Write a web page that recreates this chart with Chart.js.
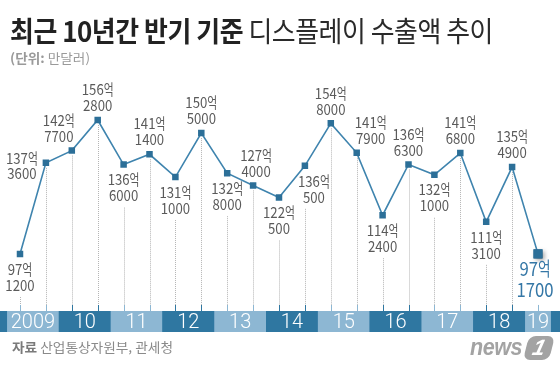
<!DOCTYPE html>
<html><head><meta charset="utf-8">
<script src="https://cdn.jsdelivr.net/npm/chart.js@4.4.1/dist/chart.umd.min.js"></script>
<style>
html,body{margin:0;padding:0;background:#fff;}
#wrap{position:relative;width:560px;height:369px;overflow:hidden;font-family:"Noto Sans CJK KR","Noto Sans",sans-serif;}
canvas{position:absolute;left:0;top:0;}
.t{position:absolute;white-space:nowrap;transform-origin:0 0;}
#title{left:10px;top:16px;font-size:28px;line-height:28px;color:#222;letter-spacing:-0.5px;}
#title b{font-weight:700;}
#title span{font-weight:400;color:#2a2a2a;}
#sub{left:10px;top:51px;font-size:13px;line-height:14px;color:#9a9a9a;}
#sub b{font-weight:700;}
#foot{left:12px;top:340px;font-size:13px;line-height:14px;color:#8a8a8a;}
#foot b{font-weight:700;color:#7a7a7a;}
#logo{left:470px;top:334px;font-family:"Liberation Sans",Arial,sans-serif;font-style:italic;font-weight:700;font-size:23px;line-height:26px;color:#a3a3a3;letter-spacing:-0.5px;}
#one{position:absolute;left:526px;top:336px;width:26px;height:24px;background:#a3a3a3;border-radius:7px;transform:skewX(-14deg);color:#fff;font-family:"Liberation Sans",Arial,sans-serif;font-weight:700;font-style:italic;font-size:22px;line-height:24px;text-align:center;}
</style></head>
<body>
<div id="wrap">
<canvas id="c" width="560" height="369"></canvas>
<div class="t" id="title"><b>최근 10년간 반기 기준</b><span> 디스플레이 수출액 추이</span></div>
<div class="t" id="sub"><b>(단위:</b> 만달러)</div>
<div class="t" id="foot"><b>자료</b> 산업통상자원부, 관세청</div>
<div class="t" id="logo">news</div>
<div id="one">1</div>
</div>
<script>
// ---- data ----
const periods = ['2009 상반기','2009 하반기','2010 상반기','2010 하반기','2011 상반기','2011 하반기','2012 상반기','2012 하반기','2013 상반기','2013 하반기','2014 상반기','2014 하반기','2015 상반기','2015 하반기','2016 상반기','2016 하반기','2017 상반기','2017 하반기','2018 상반기','2018 하반기','2019 상반기'];
const exportValues = [971200, 1373600, 1427700, 1562800, 1366000, 1411400, 1311000, 1505000, 1328000, 1274000, 1220500, 1360500, 1548000, 1417900, 1142400, 1366300, 1321000, 1416800, 1113100, 1354900, 971700];
const yearLabels = ['2009','10','11','12','13','14','15','16','17','18','19'];

// ---- layout (label placement) ----
const labelSide = ['b','l','a','a','b','a','b','a','b','a','b','b','a','a','b','a','b','a','b','a','b'];
const labelDx   = [0,-24,-13,0,0,0,0,0,0,3,0,9,0,14,0,0,0,0,0,0,-3];
const DARK = '#2f77a1', LIGHT = '#8db7d3';
const BAND_TOP = 311, BAND_BOT = 332, TICK_TOP = 305;

function fitWidth(id, w){
  const el = document.getElementById(id);
  const cw = el.getBoundingClientRect().width;
  el.style.transform = 'scaleX(' + (w / cw) + ')';
}
fitWidth('title', 483);
fitWidth('sub', 80);
fitWidth('foot', 161);
fitWidth('logo', 52);

function labelRows(v){
  return [Math.floor(v / 10000), v % 10000];
}
function drawScaled(ctx, txt, x, y, sx){
  ctx.save(); ctx.translate(x, y); ctx.scale(sx, 1); ctx.fillText(txt, 0, 0); ctx.restore();
}
function drawLabel(ctx, v, cx, y1, y2, size, color, weight){
  const [eok, rest] = labelRows(v);
  ctx.fillStyle = color;
  ctx.font = weight + ' ' + size + 'px "Noto Sans CJK KR"';
  ctx.textBaseline = 'middle';
  ctx.textAlign = 'left';
  const sd = 0.88, sh = 0.72;
  const d = String(eok), h = '억';
  const wd = ctx.measureText(d).width * sd, wh = ctx.measureText(h).width * sh;
  const x0 = cx - (wd + wh) / 2;
  drawScaled(ctx, d, x0, y1, sd);
  drawScaled(ctx, h, x0 + wd, y1, sh);
  const r = String(rest);
  const wr = ctx.measureText(r).width * sd;
  drawScaled(ctx, r, cx - wr / 2, y2, sd);
}
function labelLines(i, py){
  const s = labelSide[i];
  if (i === exportValues.length - 1) return [py + 15, py + 36];
  if (s === 'a') return [py - 30.5, py - 14.5];
  if (s === 'l') return [py - 5, py + 10.5];
  return [py + 15, py + 31];
}

const decor = {
  id: 'decor',
  beforeDatasetsDraw(chart){
    const ctx = chart.ctx, xs = chart.scales.x, meta = chart.getDatasetMeta(0);
    const step = xs.getPixelForValue(1) - xs.getPixelForValue(0);
    ctx.save();
    ctx.fillStyle = DARK;
    ctx.fillRect(0, BAND_TOP, chart.width, BAND_BOT - BAND_TOP);
    yearLabels.forEach((yl, k) => {
      const i0 = 2 * k, i1 = Math.min(2 * k + 1, exportValues.length - 1);
      const x0 = xs.getPixelForValue(i0) - step / 2, x1 = xs.getPixelForValue(i1) + step / 2;
      ctx.fillStyle = k % 2 === 0 ? LIGHT : DARK;
      ctx.fillRect(x0, BAND_TOP, x1 - x0, BAND_BOT - BAND_TOP);
    });
    meta.data.forEach((pt, i) => {
      const x = Math.round(pt.x) + 0.5;
      const k = Math.floor(i / 2);
      let start;
      const s = labelSide[i];
      if (s === 'a' || s === 'l') start = pt.y + 5;
      else start = labelLines(i, pt.y)[1] + 12;
      if (i === exportValues.length - 1) start = TICK_TOP;
      ctx.strokeStyle = '#b5b5b5';
      ctx.lineWidth = 1;
      ctx.setLineDash([1, 1]);
      ctx.beginPath(); ctx.moveTo(x, start); ctx.lineTo(x, TICK_TOP); ctx.stroke();
      ctx.setLineDash([]);
      ctx.strokeStyle = k % 2 === 0 ? LIGHT : DARK;
      ctx.beginPath(); ctx.moveTo(x, TICK_TOP); ctx.lineTo(x, BAND_TOP); ctx.stroke();
    });
    ctx.restore();
  },
  afterDatasetsDraw(chart){
    const ctx = chart.ctx, xs = chart.scales.x, meta = chart.getDatasetMeta(0);
    ctx.save();
    const last = meta.data[meta.data.length - 1];
    ctx.shadowColor = 'rgba(0,0,0,0.35)'; ctx.shadowBlur = 4; ctx.shadowOffsetX = 2; ctx.shadowOffsetY = 2;
    ctx.fillStyle = '#2c6f98';
    ctx.fillRect(last.x - 4.5, last.y - 4.5, 9, 9);
    ctx.restore();
    ctx.save();
    meta.data.forEach((pt, i) => {
      const [y1, y2] = labelLines(i, pt.y);
      const isLast = i === exportValues.length - 1;
      drawLabel(ctx, exportValues[i], pt.x + labelDx[i], y1, y2,
        isLast ? 19 : 15, isLast ? '#3577a6' : '#5a5a5a', '400');
    });
    ctx.fillStyle = '#ffffff';
    ctx.font = '300 20px Roboto, "Noto Sans", sans-serif';
    ctx.textAlign = 'center';
    ctx.textBaseline = 'middle';
    yearLabels.forEach((yl, k) => {
      const i0 = 2 * k, i1 = Math.min(2 * k + 1, exportValues.length - 1);
      const cx = (xs.getPixelForValue(i0) + xs.getPixelForValue(i1)) / 2;
      ctx.fillText(yl, cx, (BAND_TOP + BAND_BOT) / 2 + 1);
    });
    ctx.restore();
  }
};

new Chart(document.getElementById('c'), {
  type: 'line',
  data: {
    labels: periods,
    datasets: [{
      data: exportValues,
      borderColor: '#3f84ae',
      borderWidth: 1.6,
      tension: 0,
      pointStyle: 'rect',
      pointRadius: ctx => ctx.dataIndex === exportValues.length - 1 ? 6.4 : 4.6,
      pointBackgroundColor: '#2c6f98',
      pointBorderColor: '#2c6f98',
      pointBorderWidth: 0
    }]
  },
  options: {
    responsive: false,
    animation: false,
    layout: { padding: { left: 20, right: 22, top: 80, bottom: 69 } },
    scales: {
      x: { display: false },
      y: { display: false, min: 768100, max: 1739400 }
    },
    plugins: { legend: { display: false }, tooltip: { enabled: false } }
  },
  plugins: [decor]
});
</script>
</body></html>
